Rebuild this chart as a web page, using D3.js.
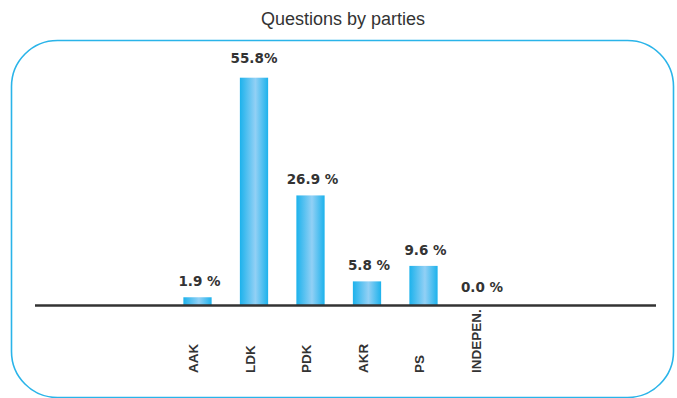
<!DOCTYPE html>
<html><head><meta charset="utf-8">
<script src="https://cdn.jsdelivr.net/npm/d3@7"></script>
<style>body{margin:0;background:#fff}svg{display:block}</style>
</head><body>
<script>
const categories = ["AAK","LDK","PDK","AKR","PS","INDEPEN."];
const values = [1.9, 55.8, 26.9, 5.8, 9.6, 0.0];
const valueLabels = ["1.9 %","55.8%","26.9 %","5.8 %","9.6 %","0.0 %"];
const title = "Questions by parties";

const W = 677, H = 398;
const svg = d3.select("body").append("svg").attr("width", W).attr("height", H);

const defs = svg.append("defs");
const g = defs.append("linearGradient").attr("id","barGrad").attr("x1","0%").attr("x2","100%").attr("y1","0%").attr("y2","0%");
g.append("stop").attr("offset","0%").attr("stop-color","#1cb2ec");
g.append("stop").attr("offset","55%").attr("stop-color","#92d0f5");
g.append("stop").attr("offset","100%").attr("stop-color","#1cb2ec");

svg.append("rect").attr("x",11.5).attr("y",40.5).attr("width",662).attr("height",357)
  .attr("rx",46).attr("ry",46).attr("fill","none").attr("stroke","#2ab4e9").attr("stroke-width",1.6);

svg.append("text").attr("x",343).attr("y",25).attr("text-anchor","middle")
  .attr("font-family","'Liberation Sans', Arial, sans-serif").attr("font-size",18)
  .attr("fill","#333").text(title);

const x = d3.scaleBand().domain(categories).range([169.25, 508.25]).paddingInner(0.5).paddingOuter(0.25);
const y = d3.scaleLinear().domain([0, 55.8]).range([305, 77.7]);

svg.selectAll("rect.bar").data(values).join("rect").attr("class","bar")
  .attr("x",(d,i)=>x(categories[i])).attr("width",x.bandwidth())
  .attr("y",d=>y(d)).attr("height",d=>y(0)-y(d)).attr("fill","url(#barGrad)");

svg.append("line").attr("x1",35).attr("x2",656).attr("y1",305.5).attr("y2",305.5)
  .attr("stroke","#333").attr("stroke-width",2.5);

svg.selectAll("text.val").data(values).join("text").attr("class","val")
  .attr("x",(d,i)=>x(categories[i])+x.bandwidth()/2 + (valueLabels[i].includes(" ")?2:0))
  .attr("y",d=>y(d)-(d>50?15:(d>0?11:13)))
  .attr("text-anchor","middle").attr("font-family","'DejaVu Sans', sans-serif").attr("font-weight","bold")
  .attr("font-size",13.5).attr("fill","#333").text((d,i)=>valueLabels[i]);

svg.selectAll("text.cat").data(categories).join("text").attr("class","cat")
  .attr("transform",d=>`translate(${x(d)+x.bandwidth()/2+0.5},373) rotate(-90)`)
  .attr("text-anchor","start").attr("font-family","'Liberation Sans', Arial, sans-serif").attr("font-weight","bold")
  .attr("font-size",13.5).attr("fill","#333").text(d=>d);
</script>
</body></html>
